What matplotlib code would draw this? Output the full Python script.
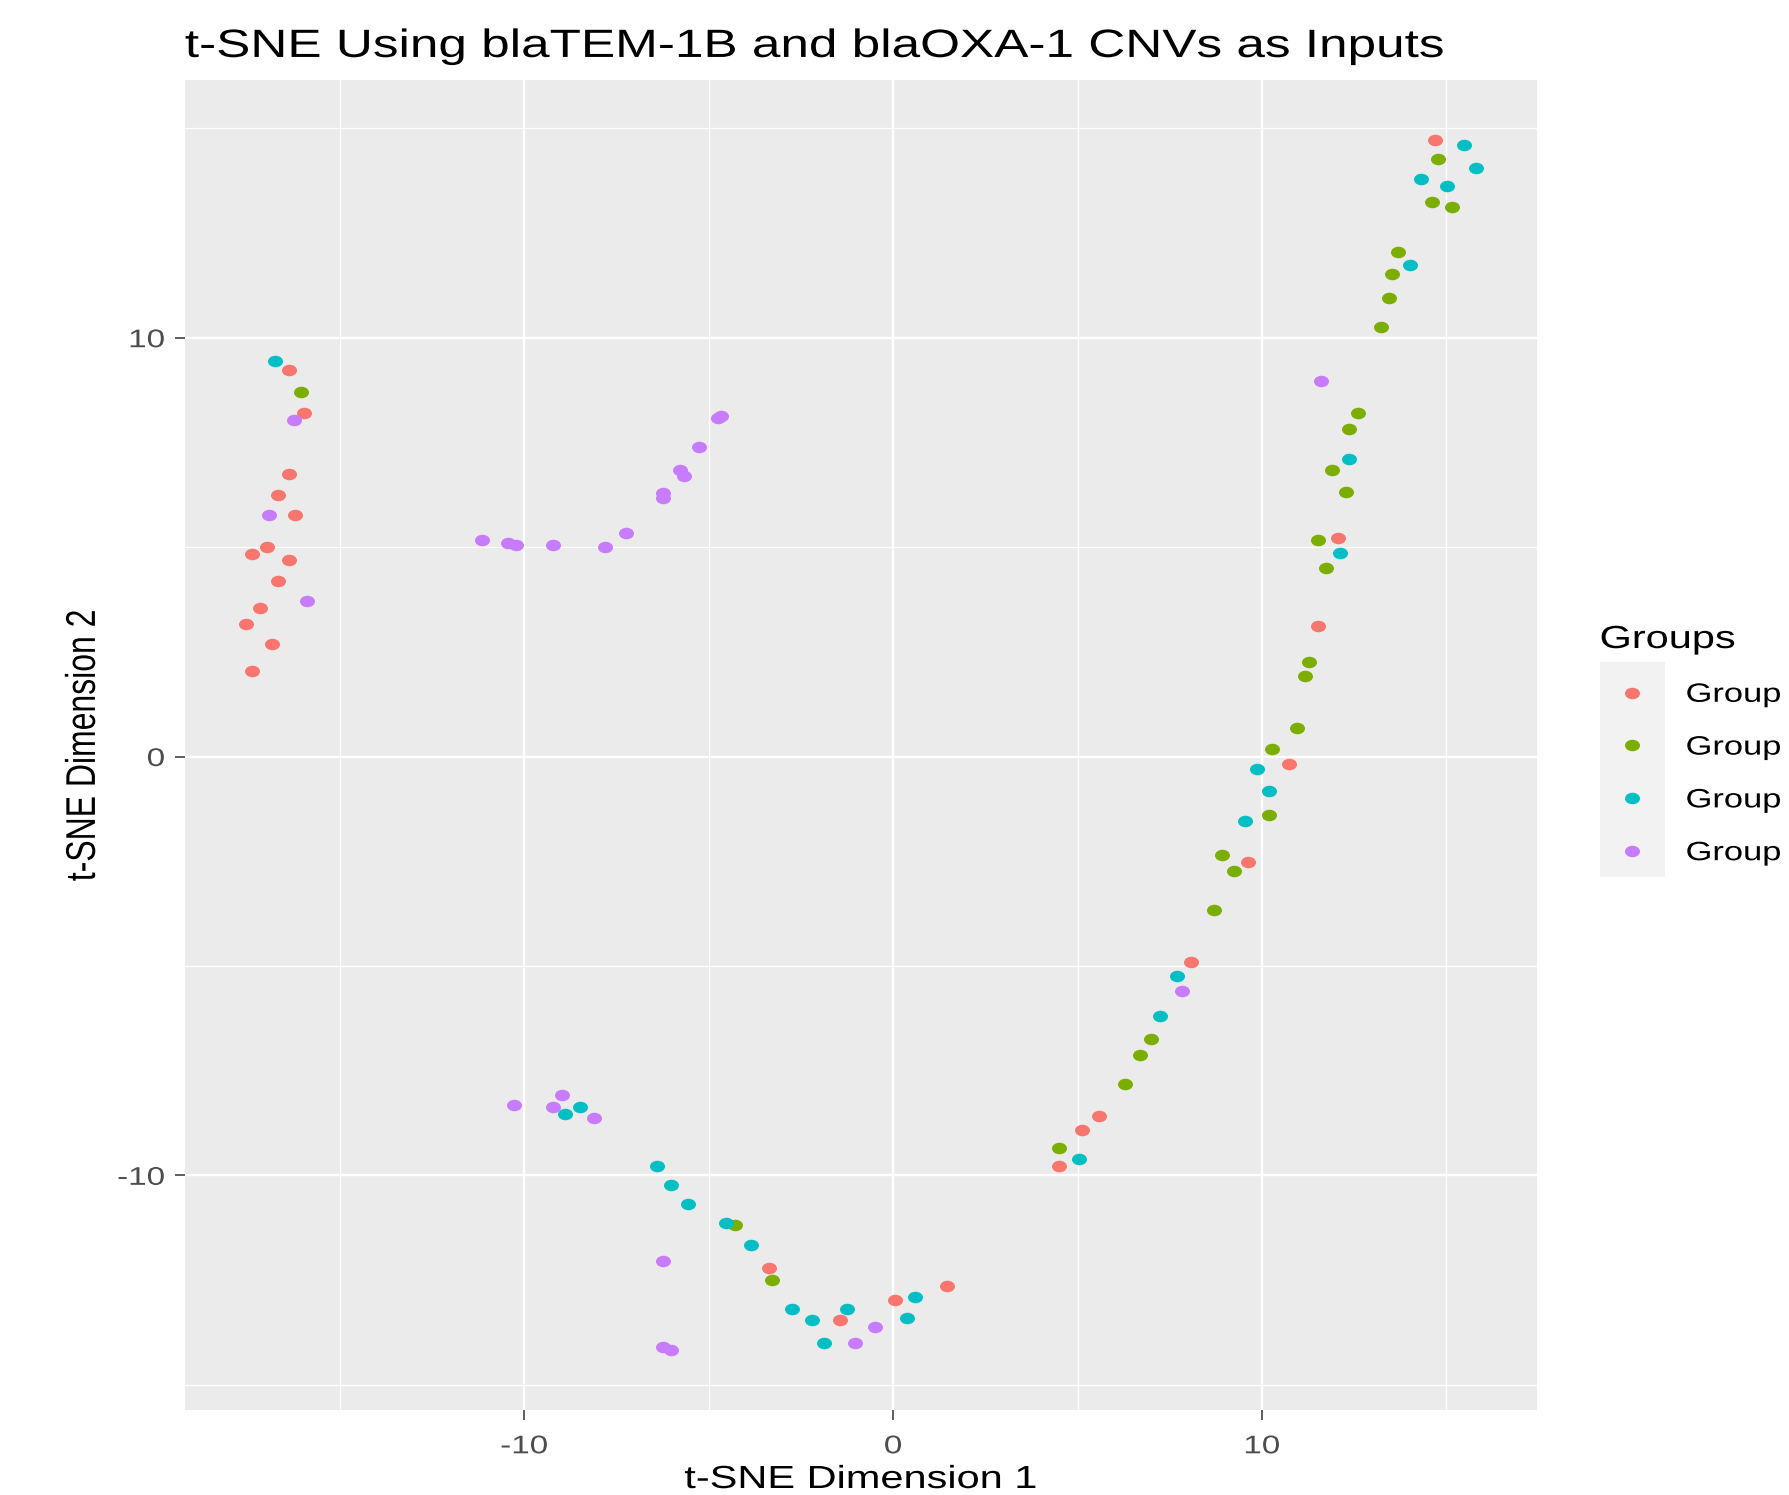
import matplotlib
matplotlib.use("Agg")
import matplotlib.pyplot as plt
import matplotlib.patheffects as pe
from matplotlib.lines import Line2D
from matplotlib.patches import Rectangle
from matplotlib.path import Path
from matplotlib.transforms import Affine2D

# The source picture is a ggplot render stretched sideways (~1.3x),
# so dots look like ellipses and glyphs look wide.
STRETCH = 1.3

plt.rcParams["font.family"] = ["Liberation Sans", "DejaVu Sans"]
plt.rcParams["axes.unicode_minus"] = False

group_labels = ["Group 1", "Group 2", "Group 3", "Group 4"]
group_colors = ["#F8766D", "#7CAE00", "#00BFC4", "#C77CFF"]

# t-SNE coordinates, one pair of lists per group
g1_x = [-16.37, -15.97, -16.37, -16.68, -16.21, -16.98, -17.39, -16.37, -16.68,
        -17.16, -17.53, -16.84, -17.39, -3.36, -1.44, 0.06, 1.46, 4.50, 5.12,
        5.59, 8.08, 9.62, 10.72, 11.51, 12.05, 14.69]
g1_y = [9.23, 8.20, 6.74, 6.25, 5.76, 5.01, 4.84, 4.69, 4.19, 3.55, 3.17, 2.68,
        2.03, -12.21, -13.45, -12.97, -12.65, -9.78, -8.91, -8.58, -4.90, -2.52,
        -0.19, 3.11, 5.22, 14.71]

g2_x = [-16.06, -4.29, -3.29, 4.50, 6.29, 6.68, 6.99, 8.70, 9.25, 8.93, 10.18,
        10.26, 10.96, 11.18, 11.27, 11.74, 11.51, 12.28, 11.89, 12.36, 12.60,
        13.22, 13.45, 13.52, 13.68, 14.62, 15.16, 14.77]
g2_y = [8.70, -11.18, -12.49, -9.34, -7.82, -7.12, -6.74, -3.66, -2.74, -2.35,
        -1.39, 0.18, 0.68, 1.92, 2.25, 4.51, 5.17, 6.31, 6.84, 7.82, 8.21, 10.26,
        10.96, 11.51, 12.05, 13.24, 13.13, 14.27]

g3_x = [-16.75, -8.90, -8.50, -6.40, -6.02, -5.55, -4.53, -3.84, -2.74, -2.20,
        -1.88, -1.26, 0.37, 0.60, 5.05, 7.23, 7.69, 9.55, 10.18, 9.87, 12.12,
        12.37, 14.00, 14.30, 15.01, 15.79, 15.48]
g3_y = [9.44, -8.53, -8.37, -9.78, -10.22, -10.69, -11.13, -11.67, -13.19,
        -13.45, -14.00, -13.18, -13.40, -12.91, -9.61, -6.20, -5.23, -1.54,
        -0.83, -0.29, 4.85, 7.11, 11.73, 13.79, 13.62, 14.05, 14.59]

g4_x = [-16.23, -16.92, -15.89, -11.15, -10.45, -10.21, -9.23, -7.80, -7.25,
        -6.23, -6.23, -5.77, -5.68, -5.25, -4.76, -4.66, -10.28, -8.98, -9.22,
        -8.12, -6.25, -1.02, -0.48, -6.25, -6.01, 7.84, 11.59]
g4_y = [8.04, 5.76, 3.71, 5.17, 5.11, 5.05, 5.05, 5.00, 5.33, 6.30, 6.18, 6.85,
        6.69, 7.39, 8.09, 8.14, -8.31, -8.09, -8.37, -8.64, -12.05, -14.00,
        -13.62, -14.11, -14.16, -5.60, 8.96]

groups_x = [g1_x, g2_x, g3_x, g4_x]
groups_y = [g1_y, g2_y, g3_y, g4_y]


class HStretch(pe.AbstractPathEffect):
    """Draw text widened sideways about its left, centre or right edge."""

    def __init__(self, anchor="center", sx=STRETCH):
        super().__init__()
        self.anchor = anchor
        self.sx = sx

    def draw_path(self, renderer, gc, tpath, affine, rgbFace=None):
        ext = tpath.get_extents(affine)
        if self.anchor == "left":
            x0 = ext.x0
        elif self.anchor == "right":
            x0 = ext.x1
        else:
            x0 = 0.5 * (ext.x0 + ext.x1)
        t = affine + Affine2D().translate(-x0, 0).scale(self.sx, 1).translate(x0, 0)
        renderer.draw_path(gc, tpath, t, rgbFace)


W, H = 1790, 1495
fig = plt.figure(figsize=(W / 100, H / 100), dpi=100, facecolor="white")
# panel spans x 185..1537, y 80..1410 in pixels
ax = fig.add_axes([185 / W, 1 - 1410 / H, 1352 / W, 1330 / H])
ax.set_facecolor("#EBEBEB")
for s in ax.spines.values():
    s.set_visible(False)

dot = Path.unit_circle().transformed(Affine2D().scale(STRETCH, 1))
dot_size = 10.8
for gx, gy, c in zip(groups_x, groups_y, group_colors):
    ax.scatter(gx, gy, s=dot_size ** 2, marker=dot, color=c, linewidths=0, zorder=3)

ax.margins(0.05)
ax.set_xticks([-10, 0, 10])
ax.set_yticks([-10, 0, 10])
ax.set_xticks([-15, -5, 5, 15], minor=True)
ax.set_yticks([-15, -5, 5, 15], minor=True)
ax.set_axisbelow(True)
ax.grid(which="major", color="white", linewidth=1.7)
ax.grid(which="minor", color="white", linewidth=0.9)
ax.tick_params(which="minor", length=0)
ax.tick_params(which="major", length=7, width=1.1, color="#333333",
               labelsize=18.4, labelcolor="#4D4D4D")
ax.tick_params(axis="x", pad=10.5)
ax.tick_params(axis="y", pad=7.5)

ax.set_title("t-SNE Using blaTEM-1B and blaOXA-1 CNVs as Inputs", loc="left",
             fontsize=28.4, pad=16.6, color="black")
ax._left_title.set_path_effects([HStretch("left")])

ax.set_xlabel("t-SNE Dimension 1", fontsize=23, va="baseline", color="black")
ax.xaxis.set_label_coords(0.5, (1410 - 1488) / 1330)
ax.xaxis.label.set_path_effects([HStretch("center")])
ax.set_ylabel("t-SNE Dimension 2", fontsize=23, va="baseline", color="black")
ax.yaxis.set_label_coords((95 - 185) / 1352, 0.5)
ax.yaxis.label.set_path_effects([HStretch("right")])

for lab in ax.get_xticklabels():
    lab.set_path_effects([HStretch("center")])
for lab in ax.get_yticklabels():
    lab.set_path_effects([HStretch("right")])

# legend: grey key strip behind the dots, like ggplot's legend keys
fig.add_artist(Rectangle((1600 / W, 1 - 877 / H), 65 / W, 215 / H,
                         transform=fig.transFigure, facecolor="#F2F2F2",
                         edgecolor="none", zorder=1))
handles = [Line2D([], [], marker=dot, linestyle="none", markersize=dot_size,
                  markerfacecolor=c, markeredgewidth=0) for c in group_colors]
leg = fig.legend(handles, group_labels, loc="upper left",
                 bbox_to_anchor=(1600 / W, 1 - 625 / H), frameon=False,
                 title="Groups", title_fontsize=23, fontsize=19.1,
                 alignment="left", borderpad=0, borderaxespad=0,
                 handlelength=2.45, handletextpad=0.79, labelspacing=1.01)
for t in leg.get_texts():
    t.set_path_effects([HStretch("left")])
leg.get_title().set_path_effects([HStretch("left")])

fig.savefig("out.png", dpi=100, facecolor="white")
